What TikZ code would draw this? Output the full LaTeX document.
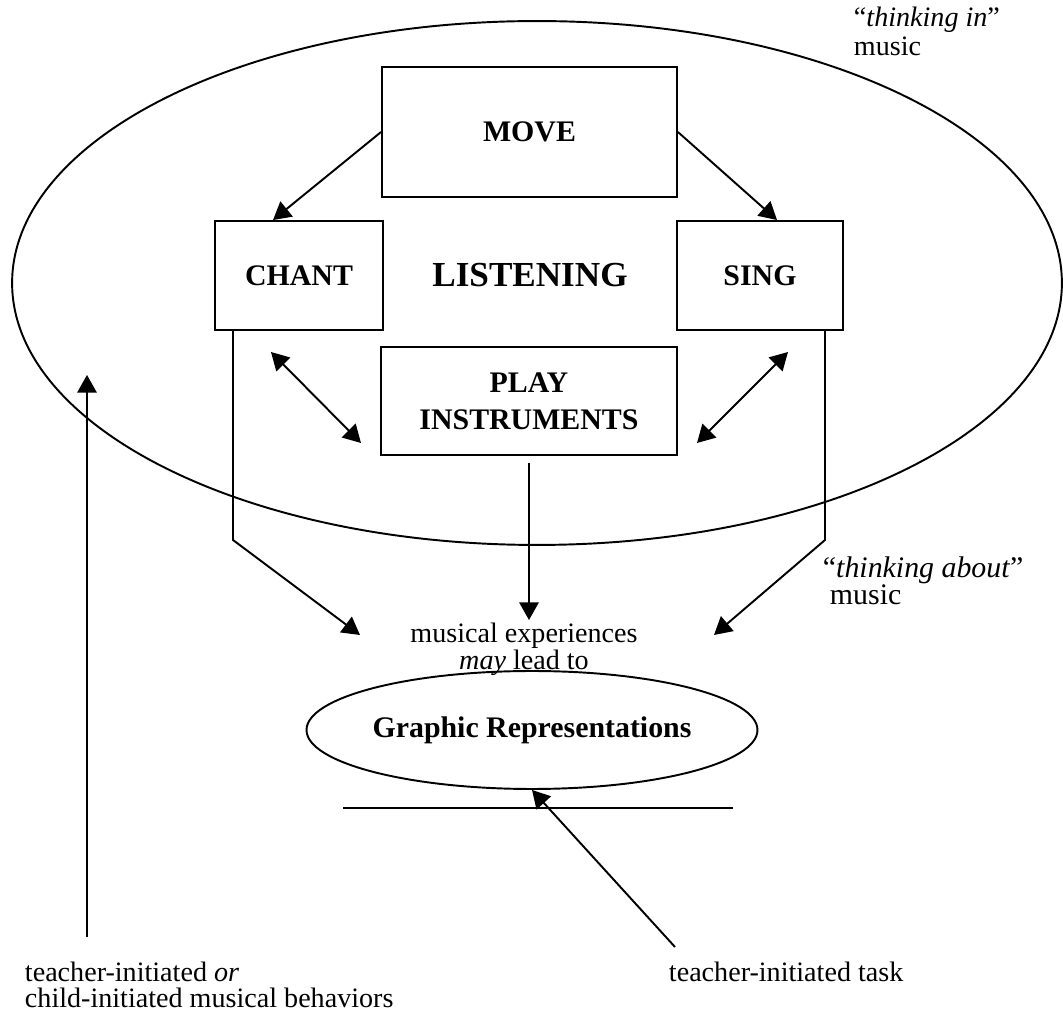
\documentclass[tikz,border=0pt]{standalone}
\usepackage{fontspec}
\setmainfont{Liberation Serif}
\usetikzlibrary{arrows.meta,calc,shapes.geometric}
\begin{document}
\begin{tikzpicture}[x=0.02cm,y=-0.02cm,
  line width=1.1pt,
  arr/.style={-{Triangle[length=10pt,width=11pt]}},
  darr/.style={{Triangle[length=10pt,width=11pt]}-{Triangle[length=10pt,width=11pt]}},
  box/.style={draw,rectangle,inner sep=0pt,font=\fontsize{17}{21}\selectfont\bfseries,align=center},
  lbl/.style={inner sep=0pt,font=\fontsize{16}{19}\selectfont},
  bigl/.style={inner sep=0pt,font=\fontsize{20}{24}\selectfont\bfseries}]
\path[use as bounding box] (0,0) rectangle (1063,1016);

% big "thinking in" ellipse
\node[draw,ellipse,inner sep=0pt,minimum width=21cm,minimum height=10.48cm] (think) at (537,283) {};

% boxes
\node[box,minimum width=5.9cm,minimum height=2.6cm] (move) at (529.5,132) {MOVE};
\node[box,minimum width=3.36cm,minimum height=2.18cm] (chant) at (299,275.5) {CHANT};
\node[box,minimum width=3.32cm,minimum height=2.18cm] (sing) at (760,275.5) {SING};
\node[box,minimum width=5.92cm,minimum height=2.16cm] (play) at (529,401) {PLAY\\INSTRUMENTS};
\node[bigl] (listen) at (530,275) {LISTENING};

% texts
\node[inner sep=0pt,align=center,font=\fontsize{16}{13.6}\selectfont] (exp) at (524,649) {musical experiences\\\textit{may} lead to};
\node[draw,ellipse,inner sep=0pt,minimum width=8.1cm,minimum height=2.36cm,
      font=\fontsize{17}{21}\selectfont\bfseries] (gr) at (532,730) {Graphic Representations};

\node[inner sep=0pt,anchor=west,align=left,font=\fontsize{16}{16.5}\selectfont] (tin) at (853,31) {``\textit{thinking in}''\\music};
\node[inner sep=0pt,anchor=west,align=left,font=\fontsize{17}{15.5}\selectfont] (tab) at (822,581) {``\textit{thinking about}''\\\hspace{4pt}music};

\node[inner sep=0pt,anchor=west,align=left,font=\fontsize{16}{15}\selectfont] (tior) at (24,985) {teacher-initiated \textit{or}\\child-initiated musical behaviors};
\node[lbl,anchor=west] (tit) at (668,972) {teacher-initiated task};

% coordinates for free ends
\coordinate (lbend) at (233,540);
\coordinate (ltip) at (360,635);
\coordinate (rbend) at (825,540);
\coordinate (rtip) at (714,635);
\coordinate (mtip) at (529,620);
\coordinate (dl1) at (271,352);
\coordinate (dl2) at (361,443);
\coordinate (dr1) at (788,352);
\coordinate (dr2) at (697,443);
\coordinate (upbot) at (87,937);
\coordinate (uptop) at (87,375);
\coordinate (tbot) at (675,947);
\coordinate (hl) at (343,808);
\coordinate (hr) at (733,808);

% connectors
\draw[arr] (move.west) -- ($(chant.north)+(-26,0)$);
\draw[arr] (move.east) -- ($(sing.north)+(17,0)$);
\draw[arr] ($(chant.south)+(-66,0)$) -- (lbend) -- (ltip);
\draw[arr] ($(sing.south)+(65,0)$) -- (rbend) -- (rtip);
\draw[arr] ($(play.south)+(0,7)$) -- (mtip);
\draw[darr] (dl1) -- (dl2);
\draw[darr] (dr1) -- (dr2);
\draw[arr] (upbot) -- (uptop);
\draw[arr] (tbot) -- (gr.south);
\draw (hl) -- (hr);
\end{tikzpicture}
\end{document}
